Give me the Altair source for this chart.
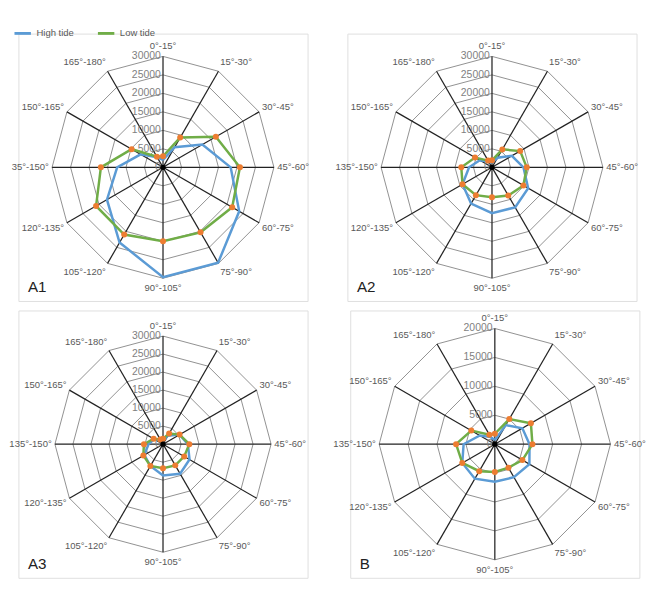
import altair as alt
import pandas as pd
import numpy as np

sectors = ["0°-15°", "15°-30°", "30°-45°", "45°-60°", "60°-75°", "75°-90°",
           "90°-105°", "105°-120°", "120°-135°", "135°-150°", "150°-165°", "165°-180°"]
sectors_a1 = sectors[:9] + ["35°-150°"] + sectors[10:]

panels = ["A1", "A2", "A3", "B"]
panel_max = {"A1": 30000, "A2": 30000, "A3": 30000, "B": 20000}
panel_step = {"A1": 5000, "A2": 5000, "A3": 5000, "B": 5000}
panel_r = {"A1": 117.0, "A2": 117.0, "A3": 114.0, "B": 122.0}

a1_high = [2000, 6300, 12300, 18300, 23800, 29800, 29700, 23500, 17500, 12400, 7000, 3100]
a1_low = [3000, 9300, 16500, 20800, 21600, 20300, 20000, 21000, 20900, 16800, 9800, 3300]
a2_high = [1300, 3000, 6200, 8500, 11300, 12500, 12400, 11300, 9200, 6200, 3800, 1800]
a2_low = [1900, 5600, 8800, 9400, 9800, 8800, 8100, 8700, 9200, 8300, 5300, 2100]
a3_high = [900, 2700, 5300, 6900, 8500, 9500, 8700, 7000, 6000, 4000, 2800, 1200]
a3_low = [1500, 3400, 5300, 7300, 6800, 6800, 6700, 7000, 6300, 5300, 3000, 1500]
b_high = [700, 3800, 5500, 6000, 6900, 6600, 6500, 6900, 6500, 5400, 3000, 1400]
b_low = [1800, 5000, 7200, 6500, 5500, 4700, 4800, 5400, 6500, 6700, 4700, 1900]

series = {"A1": (a1_high, a1_low), "A2": (a2_high, a2_low),
          "A3": (a3_high, a3_low), "B": (b_high, b_low)}

BLUE = "#5B9BD5"
GREEN = "#70AD47"
ORANGE = "#ED7D31"
GREY = "#595959"
FONT = "Liberation Sans"

W, H = 305, 282


def panel_chart(p):
    R = panel_r[p]
    xs = alt.Scale(domain=[-W / 2 / R, W / 2 / R])
    ys = alt.Scale(domain=[-H / 2 / R, H / 2 / R])
    mx = panel_max[p]
    step = panel_step[p]
    labels = sectors_a1 if p == "A1" else sectors
    hi, lo = series[p]
    rows = []
    for name, vals in (("High tide", hi), ("Low tide", lo)):
        for k in range(13):
            i = k % 12
            rows.append({"series": name, "k": k, "i": i, "value": vals[i], "max": mx})
    df = pd.DataFrame(rows)
    base = alt.Chart(df).transform_calculate(
        x="datum.value / datum.max * sin(datum.i * PI / 6)",
        y="datum.value / datum.max * cos(datum.i * PI / 6)",
    )
    X = alt.X("x:Q", scale=xs, axis=None)
    Y = alt.Y("y:Q", scale=ys, axis=None)

    ring_rows = []
    for lv in range(step, mx + 1, step):
        for k in range(13):
            ring_rows.append({"level": lv, "k": k, "i": k % 12, "value": lv, "max": mx})
    rings = alt.Chart(pd.DataFrame(ring_rows)).transform_calculate(
        x="datum.value / datum.max * sin(datum.i * PI / 6)",
        y="datum.value / datum.max * cos(datum.i * PI / 6)",
    ).mark_line(color="#7f7f7f", strokeWidth=0.9).encode(
        x=X, y=Y, detail="level:N", order="k:Q")

    spoke_df = pd.DataFrame({"i": list(range(12)), "label": labels})
    spokes = alt.Chart(spoke_df).transform_calculate(
        x="0", y="0",
        x2="sin(datum.i * PI / 6)", y2="cos(datum.i * PI / 6)",
    ).mark_rule(color="#222222", strokeWidth=1.3).encode(
        x=X, y=Y, x2="x2:Q", y2="y2:Q")

    lab = alt.Chart(spoke_df).transform_calculate(
        x="1.1 * sin(datum.i * PI / 6)", y="1.09 * cos(datum.i * PI / 6)",
    )
    lab_c = lab.transform_filter("abs(sin(datum.i * PI / 6)) < 0.1").mark_text(
        fontSize=10, font=FONT, color=GREY, align="center", baseline="middle").encode(x=X, y=Y, text="label:N")
    lab_l = lab.transform_filter("sin(datum.i * PI / 6) >= 0.1").transform_calculate(
        x="1.03 * sin(datum.i * PI / 6)").mark_text(
        fontSize=10, font=FONT, color=GREY, align="left", baseline="middle").encode(x=X, y=Y, text="label:N")
    lab_r = lab.transform_filter("sin(datum.i * PI / 6) <= -0.1").transform_calculate(
        x="1.03 * sin(datum.i * PI / 6)").mark_text(
        fontSize=10, font=FONT, color=GREY, align="right", baseline="middle").encode(x=X, y=Y, text="label:N")

    tick_df = pd.DataFrame({"value": list(range(0, mx + 1, step))})
    tick_df["max"] = mx
    ticks = alt.Chart(tick_df).transform_calculate(
        x="-0.02", y="datum.value / datum.max", t="toString(datum.value)"
    ).mark_text(fontSize=11, font=FONT, color="#7f7f7f", align="right", baseline="middle").encode(
        x=X, y=Y, text="t:N")

    hi_line = base.transform_filter("datum.series == 'High tide'").mark_line(
        color=BLUE, strokeWidth=2.6).encode(x=X, y=Y, order="k:Q")
    lo_line = base.transform_filter("datum.series == 'Low tide'").mark_line(
        color=GREEN, strokeWidth=2.6).encode(x=X, y=Y, order="k:Q")
    lo_pts = base.transform_filter("datum.series == 'Low tide' && datum.k < 12").mark_circle(
        color=ORANGE, size=40, opacity=1).encode(x=X, y=Y)
    center = alt.Chart(pd.DataFrame({"x": [0], "y": [0]})).mark_circle(
        color="black", size=30, opacity=1).encode(x=X, y=Y)

    tag = alt.Chart(pd.DataFrame({"t": [p]})).mark_text(
        fontSize=16, font=FONT, color="#222", align="left", baseline="middle").encode(
        x=alt.value(10), y=alt.value(H - 14), text="t:N")

    return alt.layer(rings, spokes, ticks, lab_c, lab_l, lab_r, hi_line, lo_line, lo_pts,
                     center, tag).properties(width=W, height=H)


leg_df = pd.DataFrame({"series": ["High tide", "Low tide"]})
legend = alt.Chart(leg_df).mark_point(opacity=0).encode(
    color=alt.Color("series:N", scale=alt.Scale(domain=["High tide", "Low tide"], range=[BLUE, GREEN]),
                    legend=alt.Legend(title=None, orient="none", legendX=-6, legendY=-4, direction="horizontal",
                                      symbolType="stroke", symbolStrokeWidth=3, symbolSize=300,
                                      labelFont=FONT, labelFontSize=10, labelColor=GREY, columnPadding=18))
).properties(width=W, height=1)

top = alt.hconcat(panel_chart("A1"), panel_chart("A2"), spacing=25)
bottom = alt.hconcat(panel_chart("A3"), panel_chart("B"), spacing=25)
chart = alt.vconcat(alt.vconcat(legend, top, spacing=2), bottom, spacing=8).configure_view(
    strokeWidth=0, stroke="transparent").configure(padding=0)

chart.save("out.html", embed_options={"renderer": "svg", "actions": False})
